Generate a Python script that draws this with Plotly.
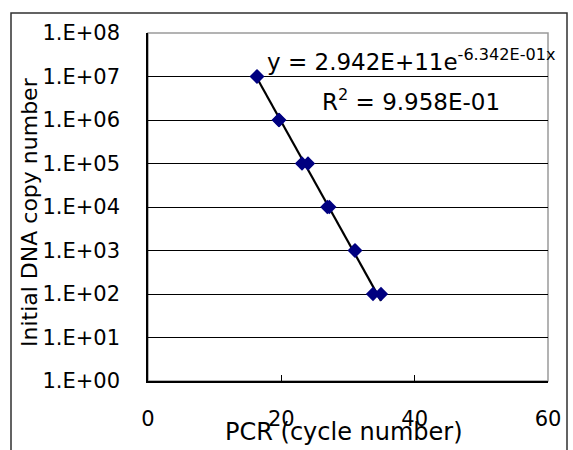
import numpy as np
import plotly.graph_objects as go

# Data
cycles = [16.3, 16.4, 19.6, 19.7, 23.1, 24.0, 26.9, 27.2, 31.0, 31.1, 33.75, 34.95]
copies = [1e7, 1e7, 1e6, 1e6, 1e5, 1e5, 1e4, 1e4, 1e3, 1e3, 1e2, 1e2]

# Trendline coefficients as displayed on the chart
fit_a = 2.942e11
fit_b = -0.6342
eq_text = "y = 2.942E+11e<sup>-6.342E-01x</sup>"
r2_text = "R<sup>2</sup> = 9.958E-01"

y_tickvals = [1e0, 1e1, 1e2, 1e3, 1e4, 1e5, 1e6, 1e7, 1e8]
y_ticktext = ["1.E+00", "1.E+01", "1.E+02", "1.E+03", "1.E+04",
              "1.E+05", "1.E+06", "1.E+07", "1.E+08"]
x_tickvals = [0, 20, 40, 60]
x_ticktext = ["0", "20", "40", "60"]

FONT = "DejaVu Sans"

fit_x = np.linspace(min(cycles), max(cycles), 60)
fit_y = fit_a * np.exp(fit_b * fit_x)

fig = go.Figure()
fig.add_trace(go.Scatter(x=fit_x, y=fit_y, mode="lines",
                         line=dict(color="black", width=2.2),
                         hoverinfo="skip", showlegend=False))
fig.add_trace(go.Scatter(x=cycles, y=copies, mode="markers",
                         marker=dict(symbol="diamond", size=11, color="#000080",
                                     line=dict(width=0)),
                         showlegend=False))

W, H = 573, 450
L, R, T, B = 148, 548, 33, 381


def px(xp):
    return (xp - L) / (R - L)


def py(yp):
    return (B - yp) / (B - T)


fig.update_layout(
    width=W, height=H,
    margin=dict(l=L, r=W - R, t=T, b=H - B, pad=0),
    paper_bgcolor="white", plot_bgcolor="white",
    font=dict(family=FONT, size=21, color="black"),
    showlegend=False,
    xaxis=dict(range=[0, 60], tickvals=x_tickvals, ticktext=x_ticktext,
               showgrid=False, zeroline=False, showline=True,
               linecolor="black", linewidth=1.5, ticks="inside",
               ticklen=6, tickcolor="black", ticklabelstandoff=18,
               tickfont=dict(family=FONT, size=21)),
    yaxis=dict(type="log", range=[0, 8], tickvals=y_tickvals,
               ticktext=y_ticktext, showgrid=True, gridcolor="black",
               gridwidth=1, zeroline=False, showline=True,
               linecolor="black", linewidth=1.5, ticks="inside",
               ticklen=7, tickcolor="black", ticklabelstandoff=22,
               tickfont=dict(family=FONT, size=21)),
    shapes=[
        dict(type="rect", xref="paper", yref="paper", x0=0, x1=1, y0=0, y1=1,
             line=dict(color="#9a9a9a", width=1.5), layer="below"),
        dict(type="rect", xref="paper", yref="paper",
             x0=px(11), x1=px(567), y0=py(470), y1=py(13),
             line=dict(color="#303030", width=1.5), layer="below"),
    ],
    annotations=[
        dict(text=eq_text, xref="paper", yref="paper", x=px(265), y=py(60),
             xanchor="left", yanchor="middle", showarrow=False,
             font=dict(family=FONT, size=23)),
        dict(text=r2_text, xref="paper", yref="paper", x=px(320), y=py(100),
             xanchor="left", yanchor="middle", showarrow=False,
             font=dict(family=FONT, size=23)),
        dict(text="PCR (cycle number)", xref="paper", yref="paper",
             x=px(344), y=py(432), xanchor="center", yanchor="middle",
             showarrow=False, font=dict(family=FONT, size=24)),
        dict(text="Initial DNA copy number", xref="paper", yref="paper",
             x=px(29), y=py(212), xanchor="center", yanchor="middle",
             textangle=-90, showarrow=False, font=dict(family=FONT, size=22)),
    ],
)

fig.write_html("out.html")
